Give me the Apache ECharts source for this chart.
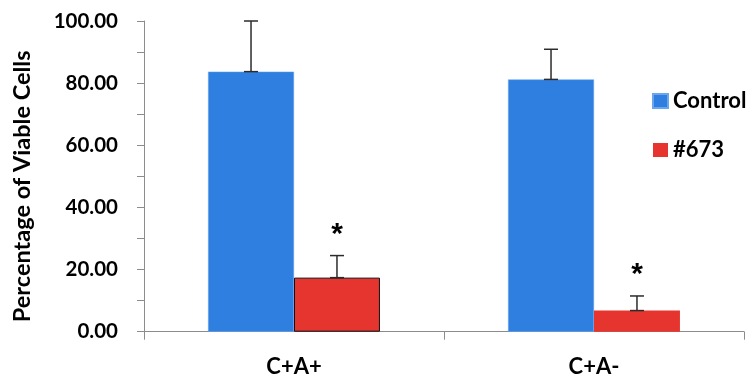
<!DOCTYPE html>
<html>
<head>
<meta charset="utf-8">
<script src="https://cdn.jsdelivr.net/npm/echarts@6/dist/echarts.min.js"></script>
<style>html,body{margin:0;padding:0;background:#fff}#c{width:756px;height:378px}</style>
</head>
<body>
<div id="c"></div>
<script>
const categories = ['C+A+', 'C+A-'];
const seriesNames = ['Control', '#673'];
const controlValues = [83.7, 81.2];
const controlErrors = [16.3, 9.7];
const compoundValues = [17.4, 6.8];
const compoundErrors = [7.1, 4.7];
const controlSig = ['', ''];
const compoundSig = ['*', '*'];
const yTicks = [0, 20, 40, 60, 80, 100];

const FONT = 'Lato';
const GAP = 0.427;

function errSeries(values, errors, sig, side) {
  return {
    type: 'custom',
    z: 5,
    silent: true,
    data: values.map((v, i) => [i, v, errors[i], side]),
    renderItem: function (params, api) {
      const ci = api.value(0), v = api.value(1), e = api.value(2), s = api.value(3);
      const catW = api.size([1, 0])[0];
      const bw = catW * (1 - GAP) / 2;
      const x = api.coord([ci, 0])[0] + s * bw / 2;
      const yTop = api.coord([ci, v + e])[1];
      const yBar = api.coord([ci, v])[1];
      const st = { stroke: '#2b2b2b', lineWidth: 1.5 };
      const ch = [
        { type: 'line', shape: { x1: x, y1: yTop, x2: x, y2: yBar }, style: st },
        { type: 'line', shape: { x1: x - 7, y1: yTop, x2: x + 7, y2: yTop }, style: st },
        { type: 'line', shape: { x1: x - 7, y1: yBar, x2: x + 7, y2: yBar }, style: st }
      ];
      const t = sig[params.dataIndex];
      if (t) {
        ch.push({ type: 'text', style: { text: t, x: x, y: yTop - 21, align: 'center', verticalAlign: 'middle', font: 'bold 30px "Liberation Sans"', fill: '#000' } });
      }
      return { type: 'group', children: ch };
    }
  };
}

const chart = echarts.init(document.getElementById('c'));
chart.setOption({
  animation: false,
  backgroundColor: '#fff',
  grid: { left: 144, right: 12, top: 21, bottom: 46.3, containLabel: false },
  legend: {
    orient: 'vertical', left: 652, top: 90, padding: 0,
    itemWidth: 15, itemHeight: 14, itemGap: 27,
    icon: 'rect',
    textStyle: { fontFamily: FONT, fontWeight: 'bold', fontSize: 22, color: '#000' },
    data: seriesNames
  },
  xAxis: {
    type: 'category', data: categories,
    axisLine: { lineStyle: { color: '#8c8c8c', width: 1 } },
    axisTick: { show: true, length: 8, lineStyle: { color: '#8c8c8c' } },
    axisLabel: { fontFamily: FONT, fontWeight: 'bold', fontSize: 22, color: '#000', margin: 24 }
  },
  yAxis: {
    type: 'value', min: yTicks[0], max: yTicks[yTicks.length - 1], interval: 20,
    name: 'Percentage of Viable Cells', nameLocation: 'middle', nameGap: 110,
    nameTextStyle: { fontFamily: FONT, fontWeight: 'bold', fontSize: 23.5, color: '#000', padding: [0, 20, 0, 0] },
    axisLine: { show: true, lineStyle: { color: '#8c8c8c', width: 1 } },
    axisTick: { show: true, length: 7, lineStyle: { color: '#8c8c8c' } },
    minorTick: { show: true, splitNumber: 2, length: 7, lineStyle: { color: '#8c8c8c' } },
    splitLine: { show: false },
    axisLabel: { fontFamily: FONT, fontWeight: 'bold', fontSize: 20.5, color: '#000', margin: 26, formatter: v => v.toFixed(2) }
  },
  series: [
    {
      name: seriesNames[0], type: 'bar', data: controlValues,
      barGap: '0%', barCategoryGap: (GAP * 100) + '%',
      itemStyle: { color: '#2F7FE0', borderColor: '#6aa6ee', borderWidth: 0.5 }
    },
    {
      name: seriesNames[1], type: 'bar',
      data: compoundValues.map((v, i) => i === 0 ? { value: v, itemStyle: { borderColor: '#111', borderWidth: 1 } } : v),
      barGap: '0%', barCategoryGap: (GAP * 100) + '%',
      itemStyle: { color: '#E5352E' }
    },
    errSeries(controlValues, controlErrors, controlSig, -1),
    errSeries(compoundValues, compoundErrors, compoundSig, 1)
  ]
});
</script>
</body>
</html>
